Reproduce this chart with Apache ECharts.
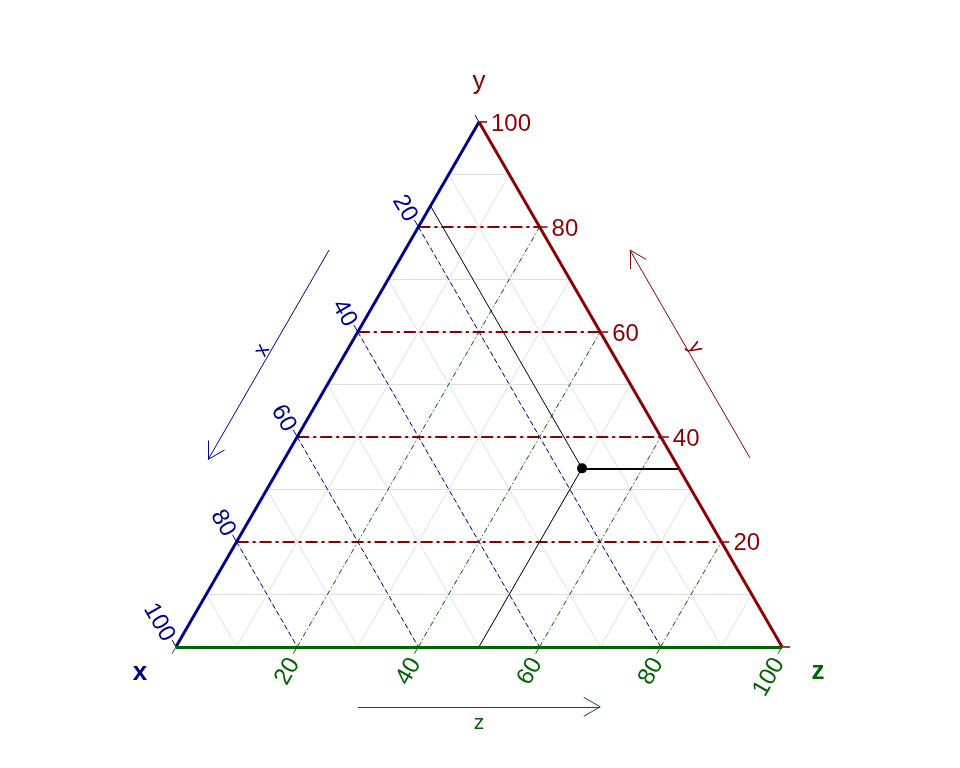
<!DOCTYPE html>
<html><head><meta charset="utf-8">
<script src="https://cdn.jsdelivr.net/npm/echarts@6/dist/echarts.min.js"></script>
<style>html,body{margin:0;padding:0;background:#fff}#c{width:960px;height:768px}</style>
</head><body><div id="c"></div>
<script>
// ---- data ----
const axisNames = ['x', 'y', 'z'];
const tickValues = [0, 20, 40, 60, 80, 100];
const labelValues = [20, 40, 60, 80, 100];
const tickLabels = ['20', '40', '60', '80', '100'];
const minorGrid = [10, 20, 30, 40, 50, 60, 70, 80, 90];
const majorGrid = [20, 40, 60, 80];
const pointX = [16];
const pointY = [34];
const pointZ = [50];

// ---- helpers ----
const colX = '#00008B', colY = '#8B0000', colZ = '#006400';
const S = 606;                // pixels per unit
const H = Math.sqrt(3) / 2;
function T(a, b, c) { return [(c + b / 2) / 100, b * H / 100]; }
function off(p, dx, dy) { return [p[0] + dx / S, p[1] - dy / S]; }
function seg(p, q) { return { coords: [p, q] }; }
function lines(data, style, z) {
  return { type: 'lines', coordinateSystem: 'cartesian2d', polyline: false, silent: true, clip: false,
    z: z, symbol: 'none', lineStyle: Object.assign({ opacity: 1, curveness: 0 }, style), data: data, animation: false };
}
function labels(items, opts, z) {
  return { type: 'scatter', symbolSize: 1, itemStyle: { color: 'rgba(255,255,255,0)', opacity: 1 }, clip: false, silent: true,
    z: z || 20, data: items,
    label: Object.assign({ show: true, formatter: '{b}', position: 'inside', opacity: 1, fontFamily: 'Liberation Sans, Arial, sans-serif' }, opts) };
}
function arrow(p, q, dir) {
  const bx = -dir[0], by = -dir[1];
  const res = [seg(p, q)];
  [Math.PI / 6, -Math.PI / 6].forEach(a => {
    const rx = bx * Math.cos(a) - by * Math.sin(a);
    const ry = bx * Math.sin(a) + by * Math.cos(a);
    res.push(seg(q, off(q, 19 * rx, 19 * ry)));
  });
  return res;
}

// gray grid
const grayData = [];
minorGrid.forEach(v => {
  grayData.push(seg(T(v, 100 - v, 0), T(v, 0, 100 - v)));
  grayData.push(seg(T(100 - v, v, 0), T(0, v, 100 - v)));
  grayData.push(seg(T(100 - v, 0, v), T(0, 100 - v, v)));
});
const xGrid = majorGrid.map(v => seg(T(v, 100 - v, 0), T(v, 0, 100 - v)));
const yGrid = majorGrid.map(v => seg(T(100 - v, v, 0), T(0, v, 100 - v)));
const zGrid = majorGrid.map(v => seg(T(100 - v, 0, v), T(0, 100 - v, v)));

const xTicks = tickValues.map(v => { const p = T(v, 100 - v, 0); return seg(p, off(p, -4, -6.93)); });
const yTicks = tickValues.map(v => { const p = T(0, v, 100 - v); return seg(p, off(p, 8, 0)); });
const zTicks = tickValues.map(v => { const p = T(100 - v, 0, v); return seg(p, off(p, -4, 6.93)); });

const xLab = labelValues.map((v, i) => ({ name: tickLabels[i], value: off(T(v, 100 - v, 0), -7, -7) }));
const yLab = labelValues.map((v, i) => ({ name: tickLabels[i], value: off(T(0, v, 100 - v), 12, 2) }));
const zLab = labelValues.map((v, i) => ({ name: tickLabels[i], value: off(T(100 - v, 0, v), -3, 13) }));

const P = T(pointX[0], pointY[0], pointZ[0]);
const pxLine = [seg(P, T(pointX[0], 100 - pointX[0], 0)), seg(P, T(100 - pointZ[0], 0, pointZ[0]))];
const pyLine = [seg(P, T(0, pointY[0], 100 - pointY[0]))];

// direction arrows
const xArrow = arrow(off(T(24.4, 75.6, 0), -76, 0), off(T(64.3, 35.7, 0), -76, 0), [-0.5, H]);
const yArrow = arrow(off(T(0, 36, 64), 77, 0), off(T(0, 75.6, 24.4), 77, 0), [-0.5, -H]);
const zArrow = arrow(off(T(70, 0, 30), 0, 60), off(T(30, 0, 70), 0, 60), [1, 0]);

const option = {
  animation: false,
  grid: { left: 176, top: 122, width: 606, height: 524.8 },
  xAxis: { type: 'value', min: 0, max: 1, show: false },
  yAxis: { type: 'value', min: 0, max: H, show: false },
  series: [
    lines(grayData, { color: '#e0e0e0', width: 1 }, 1),
    lines(xGrid, { color: colX, width: 1, type: [5, 3] }, 2),
    lines(zGrid, { color: colZ, width: 1, type: [5, 3, 1, 3] }, 2),
    lines(yGrid, { color: colY, width: 2, type: [12, 4, 3, 4] }, 3),
    lines(pxLine, { color: '#000', width: 1 }, 4),
    lines(pyLine, { color: '#000', width: 2 }, 4),
    lines(xTicks, { color: colX, width: 1 }, 5),
    lines(yTicks, { color: colY, width: 1.5 }, 5),
    lines(zTicks, { color: colZ, width: 1 }, 5),
    lines([seg(T(100, 0, 0), T(0, 100, 0))], { color: colX, width: 3 }, 6),
    lines([seg(T(0, 100, 0), T(0, 0, 100))], { color: colY, width: 3 }, 6),
    lines([seg(T(100, 0, 0), T(0, 0, 100))], { color: colZ, width: 3 }, 6),
    lines(xArrow, { color: colX, width: 1 }, 6),
    lines(yArrow, { color: colY, width: 1 }, 6),
    lines(zArrow, { color: colZ, width: 1 }, 6),
    { type: 'scatter', silent: true, z: 8, symbolSize: 10, itemStyle: { color: '#000', opacity: 1 }, data: [P] },
    labels(xLab, { color: colX, fontSize: 24, rotate: -60, align: 'right', verticalAlign: 'middle' }),
    labels(yLab, { color: colY, fontSize: 24, align: 'left', verticalAlign: 'middle' }),
    labels(zLab, { color: colZ, fontSize: 24, rotate: 60, align: 'right', verticalAlign: 'middle' }),
    labels([
      { name: axisNames[0], value: off(T(100, 0, 0), -36, 26), label: { color: colX, fontWeight: 'bold' } },
      { name: axisNames[1], value: off(T(0, 100, 0), 0, -40), label: { color: colY } },
      { name: axisNames[2], value: off(T(0, 0, 100), 36, 25), label: { color: colZ, fontWeight: 'bold' } }
    ], { fontSize: 26, align: 'center', verticalAlign: 'middle' }),
    labels([
      { name: axisNames[0], value: off(T(43.5, 56.5, 0), -85, 0), label: { color: colX, rotate: 60 } },
      { name: axisNames[1], value: off(T(0, 57, 43), 86, 0), label: { color: colY, rotate: -60 } },
      { name: axisNames[2], value: off(T(50, 0, 50), 0, 76), label: { color: colZ } }
    ], { fontSize: 21, align: 'center', verticalAlign: 'middle' })
  ]
};
echarts.init(document.getElementById('c'), null, { renderer: 'canvas' }).setOption(option);
</script>
</body></html>
